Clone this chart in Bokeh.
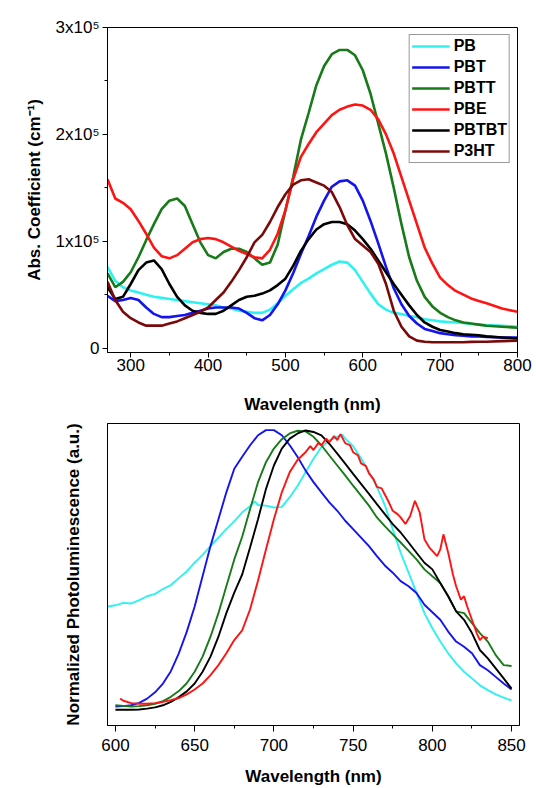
from bokeh.plotting import figure
from bokeh.layouts import column
from bokeh.models import Range1d, SingleIntervalTicker, FixedTicker
from bokeh.embed import file_html
from bokeh.resources import INLINE

FONT = "Liberation Sans"

# ---------------- Absorption data (values in units of 10^5 cm^-1) ----------------
abs_wl = [270, 280, 290, 300, 310, 320, 330, 340, 350, 360,
          370, 380, 390, 400, 410, 420, 430, 440, 450, 460,
          470, 480, 490, 500, 510, 520, 530, 540, 550, 560,
          570, 580, 590, 600, 610, 620, 630, 640, 650, 660,
          670, 680, 690, 700, 710, 720, 730, 740, 750, 760,
          780, 800]

pb_abs = [0.76, 0.63, 0.57, 0.54, 0.52, 0.50, 0.48, 0.47, 0.46, 0.45,
          0.44, 0.43, 0.42, 0.41, 0.40, 0.38, 0.37, 0.35, 0.34, 0.33,
          0.33, 0.36, 0.42, 0.49, 0.55, 0.61, 0.65, 0.70, 0.74, 0.78,
          0.81, 0.80, 0.73, 0.62, 0.51, 0.41, 0.36, 0.33, 0.32, 0.30,
          0.29, 0.27, 0.26, 0.25, 0.245, 0.24, 0.235, 0.225, 0.22, 0.215,
          0.21, 0.20]

pbt_abs = [0.49, 0.44, 0.45, 0.47, 0.45, 0.38, 0.32, 0.29, 0.29, 0.30,
           0.31, 0.33, 0.35, 0.37, 0.38, 0.38, 0.38, 0.37, 0.33, 0.28,
           0.26, 0.31, 0.41, 0.54, 0.70, 0.88, 1.05, 1.23, 1.38, 1.51,
           1.56, 1.57, 1.52, 1.38, 1.19, 0.98, 0.76, 0.56, 0.41, 0.30,
           0.23, 0.18, 0.16, 0.14, 0.13, 0.12, 0.115, 0.11, 0.11, 0.105,
           0.10, 0.10]

pbtt_abs = [0.70, 0.57, 0.62, 0.71, 0.85, 1.01, 1.16, 1.30, 1.38, 1.40,
            1.33, 1.16, 0.99, 0.87, 0.84, 0.90, 0.93, 0.93, 0.90, 0.84,
            0.78, 0.80, 0.97, 1.29, 1.60, 1.95, 2.20, 2.46, 2.64, 2.75,
            2.79, 2.79, 2.74, 2.60, 2.38, 2.10, 1.82, 1.50, 1.16, 0.85,
            0.63, 0.48, 0.39, 0.33, 0.29, 0.26, 0.24, 0.23, 0.22, 0.21,
            0.20, 0.19]

pbe_abs = [1.58, 1.40, 1.36, 1.30, 1.19, 1.07, 0.94, 0.86, 0.84, 0.87,
           0.93, 0.99, 1.02, 1.03, 1.02, 0.99, 0.95, 0.91, 0.88, 0.85,
           0.84, 0.92, 1.07, 1.29, 1.58, 1.79, 1.91, 2.02, 2.10, 2.18,
           2.23, 2.26, 2.28, 2.27, 2.23, 2.14, 2.00, 1.82, 1.60, 1.38,
           1.16, 0.94, 0.79, 0.66, 0.59, 0.535, 0.50, 0.465, 0.44, 0.42,
           0.37, 0.34]

pbtbt_abs = [0.57, 0.46, 0.48, 0.60, 0.73, 0.80, 0.82, 0.74, 0.60, 0.48,
             0.40, 0.35, 0.33, 0.32, 0.32, 0.35, 0.40, 0.45, 0.48, 0.49,
             0.51, 0.54, 0.59, 0.65, 0.77, 0.91, 1.02, 1.11, 1.16, 1.18,
             1.18, 1.16, 1.10, 1.02, 0.93, 0.82, 0.71, 0.60, 0.50, 0.40,
             0.31, 0.24, 0.20, 0.17, 0.155, 0.14, 0.13, 0.125, 0.12, 0.11,
             0.10, 0.09]

p3ht_abs = [0.62, 0.45, 0.34, 0.28, 0.24, 0.21, 0.21, 0.21, 0.23, 0.25,
            0.28, 0.31, 0.34, 0.38, 0.45, 0.52, 0.62, 0.73, 0.85, 0.99,
            1.06, 1.18, 1.32, 1.44, 1.53, 1.57, 1.58, 1.55, 1.52, 1.46,
            1.32, 1.15, 1.02, 0.96, 0.90, 0.79, 0.60, 0.35, 0.20, 0.11,
            0.07, 0.06, 0.055, 0.055, 0.055, 0.055, 0.055, 0.058, 0.06, 0.06,
            0.065, 0.07]

abs_names = ["PB", "PBT", "PBTT", "PBE", "PBTBT", "P3HT"]
abs_colors = ["#2ef2f2", "#1414f0", "#187a18", "#ff1414", "#000000", "#7a0a0a"]
abs_ticks = {0: "0", 1: "1x10\u2075", 2: "2x10\u2075", 3: "3x10\u2075"}

# ---------------- Photoluminescence data (normalized) ----------------
pl_wl = [600, 605, 610, 615, 620, 625, 630, 635, 640, 645,
         650, 655, 660, 665, 670, 675, 680, 685, 690, 695,
         700, 705, 710, 715, 720, 725, 730, 735, 740, 745,
         750, 755, 760, 765, 770, 775, 780, 785, 790, 795,
         800, 805, 810, 815, 820, 825, 830, 835, 840, 845, 850]

pbt_pl = [0.063, 0.064, 0.067, 0.075, 0.089, 0.110, 0.139, 0.180, 0.239, 0.310,
          0.394, 0.494, 0.594, 0.683, 0.772, 0.850, 0.890, 0.928, 0.961, 0.978,
          0.978, 0.961, 0.928, 0.889, 0.844, 0.806, 0.772, 0.739, 0.711, 0.678,
          0.650, 0.622, 0.594, 0.561, 0.530, 0.506, 0.478, 0.461, 0.439, 0.400,
          0.375, 0.350, 0.311, 0.278, 0.261, 0.239, 0.200, 0.183, 0.161, 0.139, 0.119]

pbtt_pl = [0.067, 0.065, 0.063, 0.064, 0.067, 0.072, 0.081, 0.095, 0.114, 0.140,
           0.178, 0.228, 0.294, 0.372, 0.461, 0.550, 0.625, 0.717, 0.806, 0.872,
           0.917, 0.948, 0.967, 0.976, 0.974, 0.956, 0.928, 0.894, 0.861, 0.828,
           0.794, 0.761, 0.728, 0.689, 0.660, 0.633, 0.606, 0.578, 0.550, 0.517,
           0.494, 0.472, 0.428, 0.378, 0.372, 0.339, 0.306, 0.278, 0.233, 0.200, 0.197]

pbtbt_pl = [0.052, 0.052, 0.052, 0.053, 0.056, 0.060, 0.067, 0.078, 0.094, 0.113,
            0.139, 0.178, 0.228, 0.294, 0.372, 0.440, 0.500, 0.590, 0.683, 0.783,
            0.861, 0.917, 0.950, 0.967, 0.977, 0.972, 0.961, 0.933, 0.900, 0.867,
            0.833, 0.800, 0.767, 0.733, 0.700, 0.667, 0.639, 0.606, 0.572, 0.539,
            0.517, 0.472, 0.428, 0.378, 0.350, 0.306, 0.250, 0.222, 0.189, 0.156, 0.122]

pb_pl_wl = [595, 600, 605, 610, 615, 620, 625, 630, 635, 640,
            645, 650, 655, 660, 665, 670, 675, 680, 685, 688,
            690, 695, 700, 705, 710, 715, 720, 725, 730, 735,
            740, 743, 745, 750, 755, 760, 765, 770, 775, 780,
            785, 790, 795, 800, 805, 810, 815, 820, 825, 830,
            835, 840, 845, 850]
pb_pl = [0.394, 0.398, 0.406, 0.404, 0.415, 0.428, 0.436, 0.452, 0.465, 0.488,
         0.510, 0.539, 0.565, 0.594, 0.622, 0.650, 0.676, 0.706, 0.726, 0.742,
         0.730, 0.728, 0.722, 0.724, 0.756, 0.794, 0.839, 0.883, 0.922, 0.944,
         0.956, 0.963, 0.950, 0.925, 0.885, 0.840, 0.790, 0.730, 0.650, 0.572,
         0.506, 0.439, 0.372, 0.322, 0.278, 0.239, 0.206, 0.178, 0.156, 0.133,
         0.117, 0.103, 0.092, 0.083]

pbe_pl_wl = [603, 605, 610, 615, 620, 625, 630, 635, 640, 645,
             650, 655, 660, 665, 670, 675, 680, 685, 690, 695,
             700, 705, 710, 715, 720, 723, 725, 728, 730, 733,
             735, 738, 740, 742, 745, 748, 750, 753, 755, 758,
             760, 763, 765, 768, 770, 772, 775, 778, 780, 783,
             786, 789, 792, 795, 798, 800, 803, 805, 807, 810,
             813, 815, 818, 820, 822, 825, 828, 830, 832, 835]
pbe_pl = [0.089, 0.082, 0.074, 0.072, 0.072, 0.074, 0.078, 0.084, 0.091, 0.103,
          0.119, 0.139, 0.167, 0.200, 0.239, 0.283, 0.315, 0.385, 0.480, 0.583,
          0.683, 0.772, 0.839, 0.880, 0.905, 0.925, 0.912, 0.935, 0.928, 0.950,
          0.938, 0.958, 0.945, 0.965, 0.935, 0.928, 0.905, 0.895, 0.868, 0.860,
          0.835, 0.815, 0.790, 0.785, 0.765, 0.745, 0.711, 0.700, 0.689, 0.667,
          0.694, 0.744, 0.706, 0.617, 0.590, 0.578, 0.561, 0.583, 0.633, 0.572,
          0.500, 0.461, 0.417, 0.428, 0.394, 0.350, 0.306, 0.283, 0.294, 0.289]


def style(p):
    p.title = None
    p.xgrid.visible = False
    p.ygrid.visible = False
    p.outline_line_color = "black"
    p.outline_line_width = 1
    p.background_fill_color = "white"
    p.border_fill_color = "white"
    for ax in list(p.xaxis) + list(p.yaxis):
        ax.axis_line_color = "black"
        ax.major_tick_line_color = "black"
        ax.minor_tick_line_color = "black"
        ax.major_tick_in = 0
        ax.minor_tick_in = 0
        ax.major_tick_out = 5
        ax.minor_tick_out = 3
        ax.major_label_text_font = FONT
        ax.major_label_text_font_size = "17px"
        ax.major_label_text_color = "black"
        ax.axis_label_text_font = FONT
        ax.axis_label_text_font_size = "17px"
        ax.axis_label_text_font_style = "bold"
        ax.axis_label_text_color = "black"


# ---------------- Top: absorption ----------------
p1 = figure(frame_width=410, frame_height=325,
            min_border_left=107, min_border_right=19,
            min_border_top=27, min_border_bottom=60,
            x_range=Range1d(270, 800), y_range=Range1d(-0.041, 3.0),
            output_backend="svg", toolbar_location=None)
style(p1)
abs_series = [pb_abs, pbt_abs, pbtt_abs, pbe_abs, pbtbt_abs, p3ht_abs]
for name, col, ys in zip(abs_names, abs_colors, abs_series):
    p1.line(abs_wl, ys, line_color=col, line_width=2.6, legend_label=name)

p1.xaxis.ticker = SingleIntervalTicker(interval=100, num_minor_ticks=2)
p1.yaxis.ticker = SingleIntervalTicker(interval=1, num_minor_ticks=2)
p1.yaxis.major_label_overrides = abs_ticks
p1.xaxis.axis_label = "Wavelength (nm)"
p1.yaxis.axis_label = "Abs. Coefficient (cm\u207b\u00b9)"
p1.xaxis.major_label_standoff = 1
p1.xaxis.axis_label_standoff = 21
p1.yaxis.major_label_standoff = 3
p1.yaxis.axis_label_standoff = 9

lg = p1.legend[0]
lg.location = "top_right"
lg.margin = 7
lg.padding = 2
lg.spacing = 3
lg.glyph_height = 18
lg.label_height = 18
lg.glyph_width = 38
lg.label_standoff = 4
lg.label_text_font = FONT
lg.label_text_font_size = "16px"
lg.label_text_font_style = "bold"
lg.label_text_color = "black"
lg.border_line_color = "#333333"
lg.border_line_width = 1
lg.background_fill_alpha = 1.0

# ---------------- Bottom: photoluminescence ----------------
p2 = figure(frame_width=412, frame_height=302,
            min_border_left=106, min_border_right=18,
            min_border_top=7, min_border_bottom=57,
            x_range=Range1d(595, 855), y_range=Range1d(0, 1),
            output_backend="svg", toolbar_location=None)
style(p2)
p2.line(pb_pl_wl, pb_pl, line_color=abs_colors[0], line_width=1.9)
p2.line(pl_wl, pbt_pl, line_color=abs_colors[1], line_width=1.9)
p2.line(pl_wl, pbtt_pl, line_color=abs_colors[2], line_width=1.9)
p2.line(pl_wl, pbtbt_pl, line_color=abs_colors[4], line_width=1.9)
p2.line(pbe_pl_wl, pbe_pl, line_color=abs_colors[3], line_width=1.9)

p2.xaxis.ticker = SingleIntervalTicker(interval=50, num_minor_ticks=2)
p2.xaxis.major_tick_out = 6
p2.xaxis.major_label_standoff = 7
p2.xaxis.axis_label_standoff = 13
p2.xaxis.axis_label = "Wavelength (nm)"
p2.yaxis.ticker = FixedTicker(ticks=[])
p2.yaxis.major_tick_out = 0
p2.yaxis.minor_tick_out = 0
p2.yaxis.major_label_standoff = 0
p2.yaxis.axis_label_standoff = 25
p2.yaxis.axis_label = "Normalized Photoluminescence (a.u.)"

layout = column(p1, p2)
open("out.html", "w").write(file_html(layout, INLINE))
